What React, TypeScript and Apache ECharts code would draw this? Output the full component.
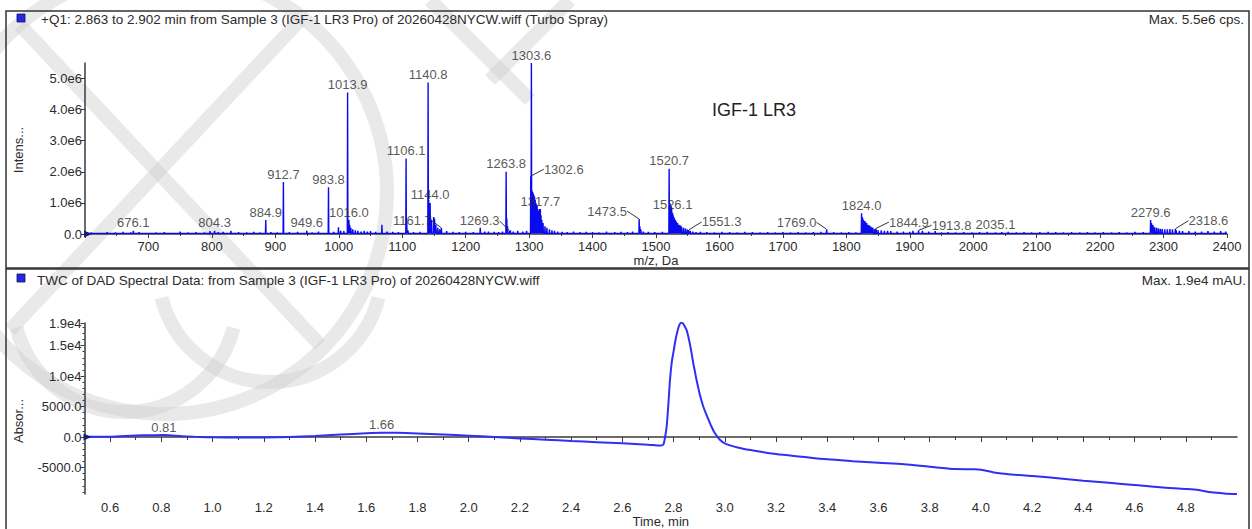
import React, { useEffect, useRef } from "react";
import * as echarts from "echarts";

// ---------- Mass spectrum (top panel) ----------
// labelled peaks: m/z and intensity (x1e6 cps)
const peakMz = [676.1, 804.3, 884.9, 912.7, 949.6, 983.8, 1013.9, 1016.0, 1106.1, 1140.8, 1144.0, 1161.7, 1263.8, 1269.3, 1302.6, 1303.6, 1317.7, 1473.5, 1520.7, 1526.1, 1551.3, 1769.0, 1824.0, 1844.9, 1913.8, 2035.1, 2279.6, 2318.6];
const peakInt = [0.1, 0.1, 0.45, 1.67, 0.1, 1.5, 4.55, 0.45, 2.43, 4.87, 1.0, 0.2, 2.0, 0.1, 1.86, 5.5, 0.8, 0.48, 2.1, 0.68, 0.13, 0.15, 0.67, 0.16, 0.12, 0.05, 0.45, 0.17];

// unlabelled isotope / cluster peaks (m/z, x1e6)
const minorPeaks: [number, number][] = [
  [999.5, 0.22], [1003, 0.1], [1014.9, 0.35], [1017.2, 0.3], [1019, 0.2], [1022, 0.15], [1026, 0.12], [1030, 0.1], [1035, 0.08], [1040, 0.1], [1045, 0.08],
  [1068, 0.3], [1107.1, 0.4], [1109, 0.12],
  [1141.8, 1.1], [1142.8, 0.8], [1145, 0.5], [1146, 0.45], [1149.5, 0.55], [1151, 0.5], [1153, 0.3], [1156, 0.2], [1159, 0.15],
  [1223, 0.2], [1236, 0.08],
  [1264.8, 0.5], [1266, 0.25], [1270.5, 0.12], [1275, 0.08], [1282, 0.1], [1290, 0.08], [1296, 0.1],
  [1304.6, 1.4], [1305.6, 1.35], [1306.6, 1.3], [1307.6, 1.25], [1308.6, 1.2], [1309.6, 1.1], [1310.6, 1.0], [1311.6, 0.95], [1312.6, 0.9], [1313.6, 0.8], [1314.6, 0.7], [1315.6, 0.75], [1316.6, 0.8],
  [1318.8, 0.6], [1320, 0.45], [1322, 0.35], [1325, 0.25], [1328, 0.2], [1332, 0.15], [1336, 0.12], [1340, 0.1], [1345, 0.08],
  [1474.5, 0.25], [1476, 0.15], [1480, 0.08],
  [1521.7, 1.0], [1522.7, 0.95], [1523.7, 0.9], [1524.7, 0.85], [1527.1, 0.6], [1528.1, 0.55], [1529.2, 0.5], [1530.5, 0.45], [1532, 0.4], [1534, 0.35], [1536, 0.3], [1538, 0.28], [1540, 0.25], [1543, 0.2], [1546, 0.18], [1549, 0.15], [1554, 0.1], [1558, 0.08], [1563, 0.06],
  [1825, 0.55], [1826, 0.5], [1827, 0.45], [1828.5, 0.42], [1830, 0.4], [1832, 0.35], [1834, 0.3], [1836, 0.28], [1838, 0.25], [1840, 0.22], [1842, 0.2], [1847, 0.15], [1850, 0.13], [1855, 0.12], [1860, 0.1], [1865, 0.1], [1870, 0.09], [1880, 0.08], [1890, 0.08], [1900, 0.07], [1905, 0.1], [1920, 0.1], [1930, 0.08], [1940, 0.09], [1950, 0.05],
  [2281, 0.35], [2282, 0.3], [2283.5, 0.28], [2286, 0.22], [2289, 0.2], [2292, 0.18], [2295, 0.17], [2298, 0.16], [2302, 0.15], [2306, 0.15], [2310, 0.16], [2314, 0.15], [2320, 0.12], [2325, 0.1], [2330, 0.09], [2340, 0.09], [2350, 0.08], [2360, 0.08], [2370, 0.09], [2380, 0.08], [2390, 0.09], [2398, 0.08],
];

// baseline noise spikes (m/z, x1e6)
const noisePeaks: [number, number][] = [
  [610, 0.05], [622, 0.04], [635, 0.06], [648, 0.05], [660, 0.07], [672, 0.05], [685, 0.06], [697, 0.04], [712, 0.05], [725, 0.06], [738, 0.04], [750, 0.08], [762, 0.05], [775, 0.06], [788, 0.05], [797, 0.09],
  [810, 0.06], [818, 0.07], [830, 0.1], [842, 0.06], [855, 0.05], [866, 0.07], [876, 0.05], [893, 0.06], [903, 0.05], [922, 0.06], [935, 0.07], [958, 0.05], [968, 0.08], [992, 0.07], [1008, 0.09],
  [1050, 0.09], [1058, 0.07], [1076, 0.08], [1085, 0.07], [1094, 0.06], [1118, 0.06], [1128, 0.07], [1170, 0.09], [1180, 0.07], [1190, 0.06], [1200, 0.07], [1212, 0.06], [1230, 0.08], [1245, 0.07], [1252, 0.06], [1258, 0.08],
  [1352, 0.07], [1360, 0.06], [1370, 0.08], [1380, 0.06], [1390, 0.07], [1400, 0.06], [1410, 0.05], [1422, 0.08], [1435, 0.06], [1445, 0.07], [1455, 0.06], [1463, 0.08], [1488, 0.07], [1498, 0.06], [1510, 0.07],
  [1570, 0.07], [1580, 0.06], [1592, 0.05], [1604, 0.07], [1616, 0.06], [1628, 0.05], [1640, 0.07], [1652, 0.06], [1664, 0.05], [1676, 0.06], [1688, 0.05], [1700, 0.06], [1712, 0.05], [1724, 0.06], [1736, 0.05], [1748, 0.06], [1760, 0.07], [1780, 0.06], [1792, 0.05], [1804, 0.06], [1815, 0.05],
  [1960, 0.06], [1972, 0.05], [1985, 0.06], [1998, 0.05], [2010, 0.06], [2022, 0.07], [2045, 0.06], [2055, 0.07], [2068, 0.05], [2080, 0.06], [2092, 0.05], [2105, 0.06], [2118, 0.07], [2130, 0.06], [2142, 0.05], [2155, 0.06], [2168, 0.05], [2180, 0.06], [2192, 0.05], [2205, 0.06], [2218, 0.05], [2230, 0.06], [2242, 0.05], [2255, 0.07], [2268, 0.06],
];

const mzTickLabels = [700, 800, 900, 1000, 1100, 1200, 1300, 1400, 1500, 1600, 1700, 1800, 1900, 2000, 2100, 2200, 2300, 2400];
const intensTicks = [0, 1e6, 2e6, 3e6, 4e6, 5e6];

// ---------- Chromatogram (bottom panel) ----------
const chromT = [0.5, 0.6, 0.7, 0.75, 0.81, 0.88, 0.95, 1.0, 1.1, 1.2, 1.3, 1.4, 1.5, 1.6, 1.66, 1.72, 1.8, 1.9, 2.0, 2.1, 2.2, 2.3, 2.4, 2.5, 2.6, 2.7, 2.75, 2.76, 2.767, 2.773, 2.78, 2.786, 2.793, 2.801, 2.808, 2.815, 2.822, 2.829, 2.836, 2.843, 2.851, 2.858, 2.865, 2.871, 2.877, 2.884, 2.89, 2.897, 2.903, 2.916, 2.929, 2.945, 2.961, 2.98, 3.0, 3.05, 3.1, 3.2, 3.3, 3.4, 3.5, 3.6, 3.7, 3.8, 3.9, 3.97, 4.0, 4.05, 4.1, 4.2, 4.3, 4.4, 4.5, 4.6, 4.7, 4.8, 4.85, 4.9, 4.95, 5.0];
const chromV = [50, 60, 270, 290, 330, 150, 0, -50, -80, -70, 0, 160, 400, 620, 700, 690, 600, 420, 220, 0, -220, -430, -650, -840, -1030, -1250, -1400, -1250, 0, 1690, 5500, 9340, 12300, 14260, 16000, 17300, 18300, 18730, 18650, 18200, 17540, 16400, 15000, 13600, 12100, 10600, 9300, 8000, 6880, 5000, 3600, 2000, 650, -400, -1030, -1700, -2130, -2790, -3230, -3660, -3950, -4210, -4450, -4870, -5250, -5280, -5350, -5800, -6060, -6390, -6750, -7160, -7500, -7870, -8250, -8520, -8700, -9070, -9250, -9340];
const chromLabelTimes = [0.81, 1.66, 2.829];

const timeTickLabels = [0.6, 0.8, 1.0, 1.2, 1.4, 1.6, 1.8, 2.0, 2.2, 2.4, 2.6, 2.8, 3.0, 3.2, 3.4, 3.6, 3.8, 4.0, 4.2, 4.4, 4.6, 4.8];
const timeMinorTicks = [0.5, 0.7, 0.9, 1.1, 1.3, 1.5, 1.7, 1.9, 2.1, 2.3, 2.5, 2.7, 2.9, 3.1, 3.3, 3.5, 3.7, 3.9, 4.1, 4.3, 4.5, 4.7, 4.9];
const absorTickLabels = [-5000, 0, 5000, 10000, 15000, 18700];
const absorMinorTicks = [-9000, -8000, -7000, -6000, -4000, -3000, -2000, -1000, 1000, 2000, 3000, 4000, 6000, 7000, 8000, 9000, 11000, 12000, 13000, 14000, 16000, 17000, 18000];

// label leader offsets for some peaks (layout only)
const leaderOffsets: Record<string, [number, number]> = {
  "1161.7": [-29, 1],
  "1269.3": [-30, -2],
  "1302.6": [33, 1],
  "1473.5": [-32, 0],
  "1551.3": [33, 0],
  "1769.0": [-30, 1],
  "1844.9": [34, 1],
  "1913.8": [33, 3],
  "2318.6": [33, 0],
};

const FONT = "'Liberation Sans', Arial, sans-serif";
const FS = 13;
const TITLE_FS = 13.5;
const TXT = "#2b2b2b";
const AX = "#3a3a3a";

function buildOption() {
  const BASE = 0.02e6;
  const all: [number, number][] = [
    ...peakMz.map((m, i) => [m, peakInt[i]] as [number, number]),
    ...minorPeaks,
    ...noisePeaks,
  ].sort((a, b) => a[0] - b[0]);
  const spec: number[][] = [[600, BASE]];
  for (const [m, v] of all) {
    spec.push([m - 0.45, BASE], [m, v * 1e6], [m + 0.45, BASE]);
  }
  spec.push([2400, BASE]);

  const chrom = chromT.map((t, i) => [t, chromV[i]]);
  const chromLabels = chromLabelTimes.map((t) => {
    const i = chromT.indexOf(t);
    return [chromT[i], chromV[i]];
  });

  const peakLabelData = peakMz.map((m, i) => {
    const key = m.toFixed(1);
    const lead = leaderOffsets[key];
    return {
      value: [m, peakInt[i] * 1e6],
      labelLine: { show: !!lead },
    };
  });

  const wm = { stroke: "#cfcfcf", lineWidth: 14, fill: "none", opacity: 0.45 };
  const wmEls: any[] = [
    { type: "circle", shape: { cx: 165, cy: 192, r: 222 } },
    { type: "line", shape: { x1: 20, y1: 25, x2: 320, y2: 345 } },
    { type: "line", shape: { x1: 300, y1: 20, x2: 10, y2: 330 } },
    { type: "arc", shape: { cx: 125, cy: 300, r: 112, startAngle: 0.25, endAngle: Math.PI - 0.25 } },
    { type: "arc", shape: { cx: 270, cy: 270, r: 112, startAngle: 0.25, endAngle: Math.PI - 0.25 } },
    { type: "line", shape: { x1: 430, y1: 0, x2: 530, y2: 100 } },
    { type: "line", shape: { x1: 490, y1: 80, x2: 570, y2: 0 } },
  ].map((e) => ({ ...e, silent: true, z: 0, style: { ...wm } }));

  const frameStyle = { stroke: "#333", lineWidth: 1.5, fill: "none" };

  const textEl = (text: string, x: number, y: number, extra: any = {}) => ({
    type: "text",
    x,
    y,
    z: 100,
    silent: true,
    style: { text, fill: TXT, font: `${TITLE_FS}px ${FONT}`, textAlign: "left", textVerticalAlign: "middle", ...extra },
  });

  const labelStyle = { color: TXT, fontSize: FS, fontFamily: FONT };

  return {
    animation: false,
    backgroundColor: "#ffffff",
    textStyle: { fontFamily: FONT },
    graphic: [
      ...wmEls,
      { type: "rect", z: 90, silent: true, shape: { x: 6, y: 11, width: 1243, height: 257 }, style: frameStyle },
      { type: "rect", z: 90, silent: true, shape: { x: 6, y: 269, width: 1243, height: 280 }, style: frameStyle },
      { type: "rect", z: 100, silent: true, shape: { x: 17, y: 14, width: 8, height: 8 }, style: { fill: "#2626e6", stroke: "#10105a", lineWidth: 0.8 } },
      { type: "rect", z: 100, silent: true, shape: { x: 17, y: 274, width: 8, height: 8 }, style: { fill: "#2626e6", stroke: "#10105a", lineWidth: 0.8 } },
      textEl("+Q1: 2.863 to 2.902 min from Sample 3 (IGF-1 LR3 Pro) of 20260428NYCW.wiff (Turbo Spray)", 41, 19),
      textEl("Max. 5.5e6 cps.", 1244, 19, { textAlign: "right" }),
      textEl("TWC of DAD Spectral Data: from Sample 3 (IGF-1 LR3 Pro) of 20260428NYCW.wiff", 37, 280),
      textEl("Max. 1.9e4 mAU.", 1246, 280, { textAlign: "right" }),
      textEl("IGF-1 LR3", 712, 110, { font: `18px ${FONT}`, fill: "#222" }),
      { ...textEl("Intens...", 18, 150, { textAlign: "center", font: `${FS}px ${FONT}` }), rotation: Math.PI / 2 },
      { ...textEl("Absor...", 18, 421, { textAlign: "center", font: `${FS}px ${FONT}` }), rotation: Math.PI / 2 },
    ],
    grid: [
      { left: 85, right: 25, top: 63, height: 171 },
      { left: 84.5, right: 15, top: 323, height: 171 },
    ],
    xAxis: [
      {
        type: "value", gridIndex: 0, min: 600, max: 2400, interval: 100,
        name: "m/z, Da", nameLocation: "middle", nameGap: 19,
        nameTextStyle: labelStyle,
        axisLine: { lineStyle: { color: AX, width: 1.5 } },
        axisTick: { length: 4, lineStyle: { color: AX } },
        minorTick: { show: true, splitNumber: 2, length: 2, lineStyle: { color: AX } },
        axisLabel: { ...labelStyle, customValues: mzTickLabels, margin: 6, formatter: (v: number) => String(v) },
        splitLine: { show: false },
      },
      {
        type: "value", gridIndex: 1, min: 0.5, max: 5.0,
        name: "Time, min", nameLocation: "middle", nameGap: 21,
        nameTextStyle: labelStyle,
        axisLine: { lineStyle: { color: AX, width: 1.5 } },
        axisTick: { customValues: timeTickLabels, length: 5, lineStyle: { color: AX } },
        axisLabel: { ...labelStyle, customValues: timeTickLabels, margin: 7, formatter: (v: number) => v.toFixed(1) },
        splitLine: { show: false },
      },
      {
        type: "value", gridIndex: 1, min: 0.5, max: 5.0, position: "bottom",
        axisLine: { show: false },
        axisTick: { customValues: timeMinorTicks, length: 3, lineStyle: { color: AX } },
        axisLabel: { show: false },
        splitLine: { show: false },
      },
    ],
    yAxis: [
      {
        type: "value", gridIndex: 0, min: 0, max: 5.5e6,
        axisLine: { show: true, lineStyle: { color: AX, width: 1.5 } },
        axisTick: { show: true, customValues: intensTicks, length: 4, lineStyle: { color: AX } },
        axisLabel: {
          ...labelStyle, customValues: intensTicks, margin: 3,
          formatter: (v: number) => (v === 0 ? "0.0" : (v / 1e6).toFixed(1) + "e6"),
        },
        splitLine: { show: false },
      },
      {
        type: "value", gridIndex: 1, min: -9340, max: 18700,
        axisLine: { show: true, lineStyle: { color: AX, width: 1.5 } },
        axisTick: { show: true, customValues: absorTickLabels, length: 4, lineStyle: { color: AX } },
        axisLabel: {
          ...labelStyle, customValues: absorTickLabels, margin: 3,
          formatter: (v: number) => (v === 0 ? "0.0" : Math.abs(v) < 10000 ? v.toFixed(1) : (v / 1e4).toFixed(1) + "e4"),
        },
        splitLine: { show: false },
      },
      {
        type: "value", gridIndex: 1, min: -9340, max: 18700, position: "left",
        axisLine: { show: false },
        axisTick: { show: true, customValues: absorMinorTicks, length: 2, lineStyle: { color: AX } },
        axisLabel: { show: false },
        splitLine: { show: false },
      },
    ],
    series: [
      {
        type: "line", xAxisIndex: 0, yAxisIndex: 0, data: spec, showSymbol: false, symbol: "none",
        lineStyle: { color: "#0a0af0", width: 1.4 }, z: 3,
        markPoint: {
          symbol: "triangle", symbolSize: [7, 8], symbolRotate: -90, symbolOffset: [3, 0],
          itemStyle: { color: "#1a1a80" }, label: { show: false },
          data: [{ coord: [600, 0] }],
        },
      },
      {
        type: "scatter", xAxisIndex: 0, yAxisIndex: 0, data: peakLabelData, symbolSize: 1,
        itemStyle: { color: "rgba(0,0,0,0)" }, z: 5,
        label: {
          ...labelStyle, show: true, position: "top", distance: 1,
          formatter: (p: any) => p.value[0].toFixed(1),
        },
        labelLine: { show: false, lineStyle: { color: "#333", width: 1 } },
        labelLayout: (p: any) => {
          const key = peakMz[p.dataIndex].toFixed(1);
          const lead = leaderOffsets[key];
          return lead ? { dx: lead[0], dy: lead[1] } : {};
        },
      },
      {
        type: "line", xAxisIndex: 1, yAxisIndex: 1, data: chrom, showSymbol: false, symbol: "none",
        smooth: 0.3,
        lineStyle: { color: "#2f2ff5", width: 2 }, z: 3,
        markPoint: {
          symbol: "triangle", symbolSize: [7, 8], symbolRotate: -90, symbolOffset: [3, 0],
          itemStyle: { color: "#1a1a80" }, label: { show: false },
          data: [{ coord: [0.5, 0] }],
        },
      },
      {
        type: "scatter", xAxisIndex: 1, yAxisIndex: 1, data: chromLabels, symbolSize: 1,
        itemStyle: { color: "rgba(0,0,0,0)" }, z: 5,
        label: {
          ...labelStyle, show: true, position: "top", distance: 1,
          formatter: (p: any) => p.value[0].toFixed(2),
        },
      },
    ],
  };
}

export default function App() {
  const ref = useRef<HTMLDivElement>(null);
  useEffect(() => {
    if (!ref.current) return;
    const chart = echarts.init(ref.current, null, { renderer: "svg" });
    chart.setOption(buildOption() as any);
    return () => chart.dispose();
  }, []);
  return (
    <div
      ref={ref}
      style={{ position: "fixed", left: 0, top: 0, width: 1252, height: 529, background: "#fff" }}
    />
  );
}
